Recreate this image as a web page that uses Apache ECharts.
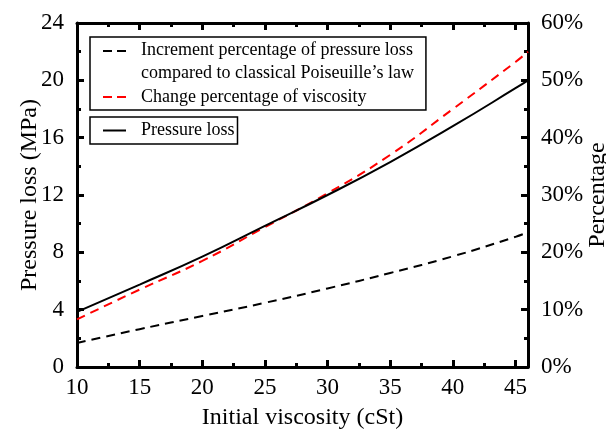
<!DOCTYPE html>
<html>
<head>
<meta charset="utf-8">
<script src="https://cdn.jsdelivr.net/npm/echarts@6/dist/echarts.min.js"></script>
<style>html,body{margin:0;padding:0;background:#fff;}#c{width:606px;height:430px;}</style>
</head>
<body>
<div id="c"></div>
<script>
// ---- data ----
var viscosity = [10, 15, 20, 25, 30, 35, 40, 45, 46];
var pressureLoss = [3.85, 5.75, 7.7, 9.85, 12.0, 14.3, 16.8, 19.45, 20.0];
var viscosityChangePct = [8.3, 13.5, 18.5, 24.4, 30.3, 37.0, 45.0, 53.2, 55.0];
var incrementPct = [4.2, 6.6, 8.9, 11.2, 13.7, 16.4, 19.3, 22.7, 23.5];
var xMajorTicks = [10, 15, 20, 25, 30, 35, 40, 45];
var xMinorTicks = [12.5, 17.5, 22.5, 27.5, 32.5, 37.5, 42.5];
var nameIncrement = 'Increment percentage of pressure loss\ncompared to classical Poiseuille\u2019s law';
var nameViscosity = 'Change percentage of viscosity';
var namePressure = 'Pressure loss';

function pairs(xs, ys) { return xs.map(function (x, i) { return [x, ys[i]]; }); }

var FONT = 'Liberation Serif';
var axisLineStyle = { show: true, lineStyle: { color: '#000', width: 3 } };

function xAxisCfg(pos, ticks, len, showLine, showLabel, name) {
  return {
    type: 'value', position: pos, min: 10, max: 46, interval: 5,
    name: name || '', nameLocation: 'middle', nameGap: 39, nameMoveOverlap: false,
    nameTextStyle: { fontFamily: FONT, fontSize: 24, color: '#000' },
    axisLine: showLine ? axisLineStyle : { show: false },
    axisTick: { show: true, inside: true, length: len, lineStyle: { color: '#000', width: 3 }, customValues: ticks },
    axisLabel: { show: showLabel, customValues: xMajorTicks, margin: 9, fontFamily: FONT, fontSize: 23, color: '#000' },
    minorTick: { show: false }, splitLine: { show: false }
  };
}

var chart = echarts.init(document.getElementById('c'), null, { renderer: 'canvas' });
chart.setOption({
  animation: false,
  backgroundColor: '#fff',
  grid: { left: 77, right: 78, top: 23, bottom: 63, containLabel: false, outerBoundsMode: 'none' },
  xAxis: [
    xAxisCfg('bottom', xMajorTicks, 7, true, true, 'Initial viscosity (cSt)'),
    xAxisCfg('bottom', xMinorTicks, 4, false, false),
    xAxisCfg('top', xMajorTicks, 7, true, false),
    xAxisCfg('top', xMinorTicks, 4, false, false)
  ],
  yAxis: [
    {
      type: 'value', position: 'left', min: 0, max: 24, interval: 4,
      name: 'Pressure loss (MPa)', nameLocation: 'middle', nameGap: 35, nameRotate: 90, nameMoveOverlap: false,
      nameTextStyle: { fontFamily: FONT, fontSize: 24, color: '#000' },
      axisLine: axisLineStyle,
      axisTick: { show: true, inside: true, length: 7, lineStyle: { color: '#000', width: 3 } },
      minorTick: { show: true, splitNumber: 2, length: 4, lineStyle: { color: '#000', width: 3 } },
      axisLabel: { margin: 13, fontFamily: FONT, fontSize: 23, color: '#000' },
      splitLine: { show: false }
    },
    {
      type: 'value', position: 'right', min: 0, max: 60, interval: 10,
      name: 'Percentage', nameLocation: 'middle', nameGap: 58, nameRotate: 90, nameMoveOverlap: false,
      nameTextStyle: { fontFamily: FONT, fontSize: 24, color: '#000' },
      axisLine: axisLineStyle,
      axisTick: { show: true, inside: true, length: 7, lineStyle: { color: '#000', width: 3 } },
      minorTick: { show: true, splitNumber: 2, length: 4, lineStyle: { color: '#000', width: 3 } },
      axisLabel: { margin: 13, fontFamily: FONT, fontSize: 23, color: '#000', formatter: '{value}%' },
      splitLine: { show: false }
    }
  ],
  legend: [
    {
      left: 90, top: 37, orient: 'vertical', itemWidth: 35, itemHeight: 24, itemGap: 0,
      padding: [2, 12, 1, 11], borderColor: '#000', borderWidth: 1.5, selectedMode: false,
      textStyle: { fontFamily: FONT, fontSize: 18, color: '#000', lineHeight: 23 },
      data: [
        { name: nameIncrement, icon: 'path://M0,0h0.01v0.01h-0.01z M2,0h9v2h-9z M16,0h9v2h-9z M34.99,23.99h0.01v0.01h-0.01z', itemStyle: { color: '#000', borderWidth: 0 } },
        { name: nameViscosity, icon: 'path://M0,0h0.01v0.01h-0.01z M2,11h9v2h-9z M16,11h9v2h-9z M34.99,23.99h0.01v0.01h-0.01z', itemStyle: { color: '#ff0000', borderWidth: 0 } }
      ]
    },
    {
      left: 90, top: 117, orient: 'vertical', itemWidth: 35, itemHeight: 24, itemGap: 0,
      padding: [1.5, 3, 1.5, 11], borderColor: '#000', borderWidth: 1.5, selectedMode: false,
      textStyle: { fontFamily: FONT, fontSize: 18, color: '#000', lineHeight: 23 },
      data: [
        { name: namePressure, icon: 'path://M0,0h0.01v0.01h-0.01z M2,11h23v2h-23z M34.99,23.99h0.01v0.01h-0.01z', itemStyle: { color: '#000', borderWidth: 0 } }
      ]
    }
  ],
  series: [
    {
      name: nameIncrement, type: 'line', xAxisIndex: 0, yAxisIndex: 1, smooth: true, symbol: 'none',
      data: pairs(viscosity, incrementPct),
      lineStyle: { color: '#000', width: 2, type: [9, 6] }, itemStyle: { color: '#000' }
    },
    {
      name: nameViscosity, type: 'line', xAxisIndex: 0, yAxisIndex: 1, smooth: true, symbol: 'none',
      data: pairs(viscosity, viscosityChangePct),
      lineStyle: { color: '#ff0000', width: 2, type: [9, 6] }, itemStyle: { color: '#ff0000' }
    },
    {
      name: namePressure, type: 'line', xAxisIndex: 0, yAxisIndex: 0, smooth: true, symbol: 'none',
      data: pairs(viscosity, pressureLoss),
      lineStyle: { color: '#000', width: 2 }, itemStyle: { color: '#000' }
    }
  ]
});
</script>
</body>
</html>
